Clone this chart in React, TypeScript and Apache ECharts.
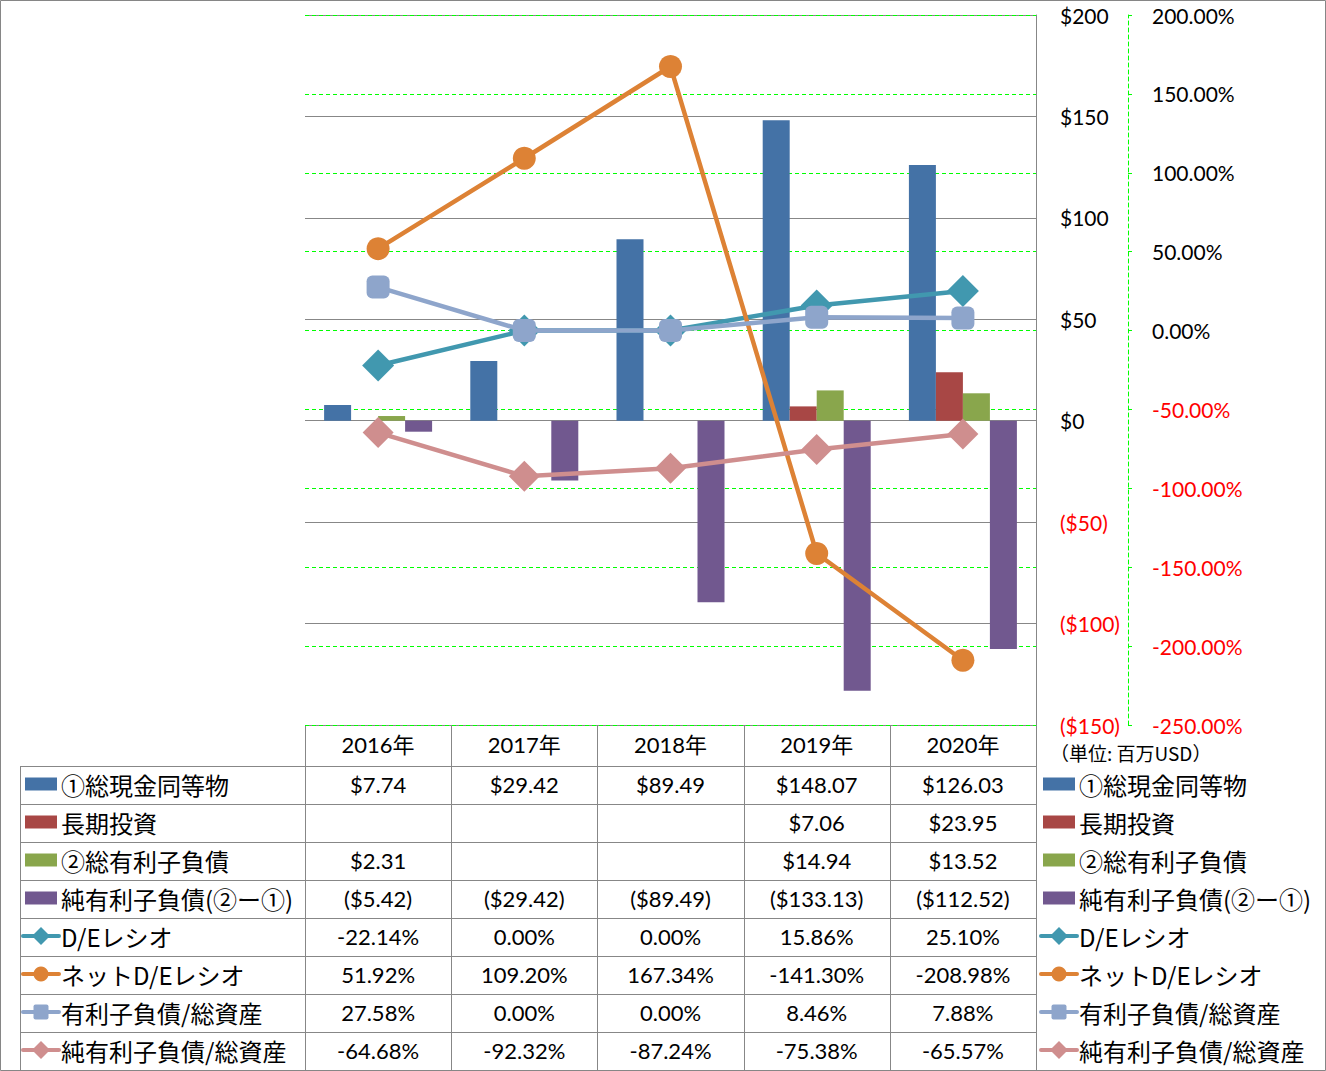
import React, { useEffect, useRef } from "react";
import * as echarts from "echarts";

const categories = ["2016年", "2017年", "2018年", "2019年", "2020年"];
const cashValues = [7.74, 29.42, 89.49, 148.07, 126.03];
const longInvestValues: (number | null)[] = [null, null, null, 7.06, 23.95];
const totalDebtValues: (number | null)[] = [2.31, null, null, 14.94, 13.52];
const netDebtValues = [-5.42, -29.42, -89.49, -133.13, -112.52];
const deRatioValues = [-22.14, 0.0, 0.0, 15.86, 25.1];
const netDeRatioValues = [51.92, 109.2, 167.34, -141.3, -208.98];
const debtAssetsValues = [27.58, 0.0, 0.0, 8.46, 7.88];
const netDebtAssetsValues = [-64.68, -92.32, -87.24, -75.38, -65.57];

const seriesNames = [
  "①総現金同等物",
  "長期投資",
  "②総有利子負債",
  "純有利子負債(②ー①)",
  "D/Eレシオ",
  "ネットD/Eレシオ",
  "有利子負債/総資産",
  "純有利子負債/総資産",
];
const seriesColors = ["#4472A6", "#A84745", "#89A64C", "#71588F", "#4198AF", "#DD8235", "#8EA5CB", "#CF8E8E"];
const unitLabel = "（単位: 百万USD）";

const W = 1326;
const H = 1071;
const PL = 305;
const PR = 1036;
const PT = 15;
const PB = 725;
const ROW0 = 766;
const ROWH = 38;
const LATIN = "Lato, 'Noto Sans CJK JP', sans-serif";
const CJK = "'Noto Sans CJK JP', sans-serif";
const GRID_GRAY = "#878787";

function fmtMoney(v: number | null): string {
  if (v === null || v === undefined) return "";
  return v < 0 ? `($${Math.abs(v).toFixed(2)})` : `$${v.toFixed(2)}`;
}
function fmtPct(v: number): string {
  return `${v.toFixed(2)}%`;
}

function keyGraphic(idx: number, x: number, cy: number): any[] {
  const color = seriesColors[idx];
  if (idx < 4) {
    return [{ type: "rect", shape: { x, y: cy - 6.5, width: 32, height: 13 }, style: { fill: color } }];
  }
  const mx = x + 16;
  const els: any[] = [
    { type: "line", shape: { x1: x - 2, y1: cy, x2: x + 34, y2: cy }, style: { stroke: color, lineWidth: 4, lineCap: "round" } },
  ];
  if (idx === 4 || idx === 7) {
    els.push({
      type: "polygon",
      shape: { points: [[mx, cy - 9], [mx + 9, cy], [mx, cy + 9], [mx - 9, cy]] },
      style: { fill: color },
    });
  } else if (idx === 5) {
    els.push({ type: "circle", shape: { cx: mx, cy, r: 7.5 }, style: { fill: color } });
  } else {
    els.push({ type: "rect", shape: { x: mx - 7.5, y: cy - 7.5, width: 15, height: 15, r: 2 }, style: { fill: color } });
  }
  return els;
}

export default function App() {
  const ref = useRef<HTMLDivElement>(null);
  useEffect(() => {
    document.body.style.margin = "0";
    if (!ref.current) return;
    const chart = echarts.init(ref.current, undefined, { renderer: "svg" });

    const colW = (PR - PL) / categories.length;
    const tableRows: { vals: string[] }[] = [
      { vals: cashValues.map(fmtMoney) },
      { vals: longInvestValues.map(fmtMoney) },
      { vals: totalDebtValues.map(fmtMoney) },
      { vals: netDebtValues.map(fmtMoney) },
      { vals: deRatioValues.map(fmtPct) },
      { vals: netDeRatioValues.map(fmtPct) },
      { vals: debtAssetsValues.map(fmtPct) },
      { vals: netDebtAssetsValues.map(fmtPct) },
    ];

    const graphics: any[] = [];
    graphics.push({ type: "rect", shape: { x: 0.5, y: 0.5, width: W - 1, height: H - 1 }, style: { fill: "none", stroke: "#868686", lineWidth: 1 }, z: 100 });
    for (let i = 0; i <= categories.length; i++) {
      const x = Math.round(PL + i * colW) + 0.5;
      graphics.push({ type: "line", shape: { x1: x, y1: PB, x2: x, y2: H }, style: { stroke: GRID_GRAY, lineWidth: 1 } });
    }
    graphics.push({ type: "line", shape: { x1: 20.5, y1: ROW0, x2: 20.5, y2: H }, style: { stroke: GRID_GRAY, lineWidth: 1 } });
    for (let r = 0; r < tableRows.length; r++) {
      const y = ROW0 + r * ROWH + 0.5;
      graphics.push({ type: "line", shape: { x1: 20, y1: y, x2: PR, y2: y }, style: { stroke: GRID_GRAY, lineWidth: 1 } });
    }
    tableRows.forEach((row, r) => {
      const cy = ROW0 + r * ROWH + ROWH / 2 - 1;
      row.vals.forEach((t, c) => {
        if (!t) return;
        graphics.push({
          type: "text",
          x: PL + c * colW + colW / 2,
          y: cy,
          style: { text: t, fill: "#000", font: `22px ${LATIN}`, align: "center", verticalAlign: "middle" },
        });
      });
      graphics.push(...keyGraphic(r, 25, cy));
      graphics.push({
        type: "text",
        x: 61,
        y: cy,
        style: { text: seriesNames[r], fill: "#000", font: `24px ${CJK}`, align: "left", verticalAlign: "middle" },
      });
      graphics.push(...keyGraphic(r, 1043, cy));
      graphics.push({
        type: "text",
        x: 1079,
        y: cy,
        style: { text: seriesNames[r], fill: "#000", font: `24px ${CJK}`, align: "left", verticalAlign: "middle" },
      });
    });
    graphics.push({
      type: "text",
      x: 1050,
      y: 752,
      style: { text: unitLabel, fill: "#000", font: `19px ${CJK}`, align: "left", verticalAlign: "middle" },
    });

    const lineBase = (idx: number, data: number[], symbol: string, size: number) => ({
      name: seriesNames[idx],
      type: "line",
      yAxisIndex: 1,
      data,
      symbol,
      symbolSize: size,
      showAllSymbol: true,
      lineStyle: { color: seriesColors[idx], width: 4.5 },
      itemStyle: { color: seriesColors[idx] },
      z: 5 + idx,
    });

    const barBase = (idx: number, data: (number | null)[]) => ({
      name: seriesNames[idx],
      type: "bar",
      yAxisIndex: 0,
      data,
      barWidth: 27,
      barGap: "0%",
      itemStyle: { color: seriesColors[idx] },
    });

    chart.setOption({
      animation: false,
      backgroundColor: "#fff",
      grid: { left: PL, right: W - PR, top: PT, bottom: H - PB, containLabel: false },
      xAxis: {
        type: "category",
        data: categories,
        position: "bottom",
        axisLine: { show: false },
        axisTick: { show: false },
        axisLabel: { margin: 19, verticalAlign: "middle", fontSize: 22, color: "#000", fontFamily: LATIN },
        splitLine: { show: false },
      },
      yAxis: [
        {
          type: "value",
          position: "right",
          min: -150,
          max: 200,
          interval: 50,
          axisLine: { show: true, lineStyle: { color: GRID_GRAY, width: 1 } },
          axisTick: { show: false },
          axisLabel: {
            margin: 24,
            fontSize: 21,
            fontFamily: LATIN,
            formatter: (v: number) => (v < 0 ? `($${Math.abs(v)})` : `$${v}`),
            color: (v: any) => (Number(v) < 0 ? "#FF0000" : "#000"),
          },
          splitLine: { show: true, lineStyle: { color: GRID_GRAY, width: 1 } },
        },
        {
          type: "value",
          position: "right",
          offset: 92,
          min: -250,
          max: 200,
          interval: 50,
          axisLine: { show: true, lineStyle: { color: "#00FF00", width: 1, type: [4, 3] } },
          axisTick: { show: true, inside: false, length: 4, lineStyle: { color: "#00FF00", type: [4, 3] } },
          axisLabel: {
            margin: 24,
            fontSize: 21,
            fontFamily: LATIN,
            formatter: (v: number) => `${v.toFixed(2)}%`,
            color: (v: any) => (Number(v) < 0 ? "#FF0000" : "#000"),
          },
          splitLine: { show: true, lineStyle: { color: "#00FF00", width: 1, type: [4, 3] } },
        },
      ],
      graphic: graphics,
      series: [
        barBase(0, cashValues),
        barBase(1, longInvestValues),
        barBase(2, totalDebtValues),
        barBase(3, netDebtValues),
        lineBase(4, deRatioValues, "diamond", 32),
        lineBase(5, netDeRatioValues, "circle", 23),
        lineBase(6, debtAssetsValues, "roundRect", 23),
        lineBase(7, netDebtAssetsValues, "diamond", 31),
      ],
    });
    return () => chart.dispose();
  }, []);
  return <div ref={ref} style={{ width: W, height: H }} />;
}
